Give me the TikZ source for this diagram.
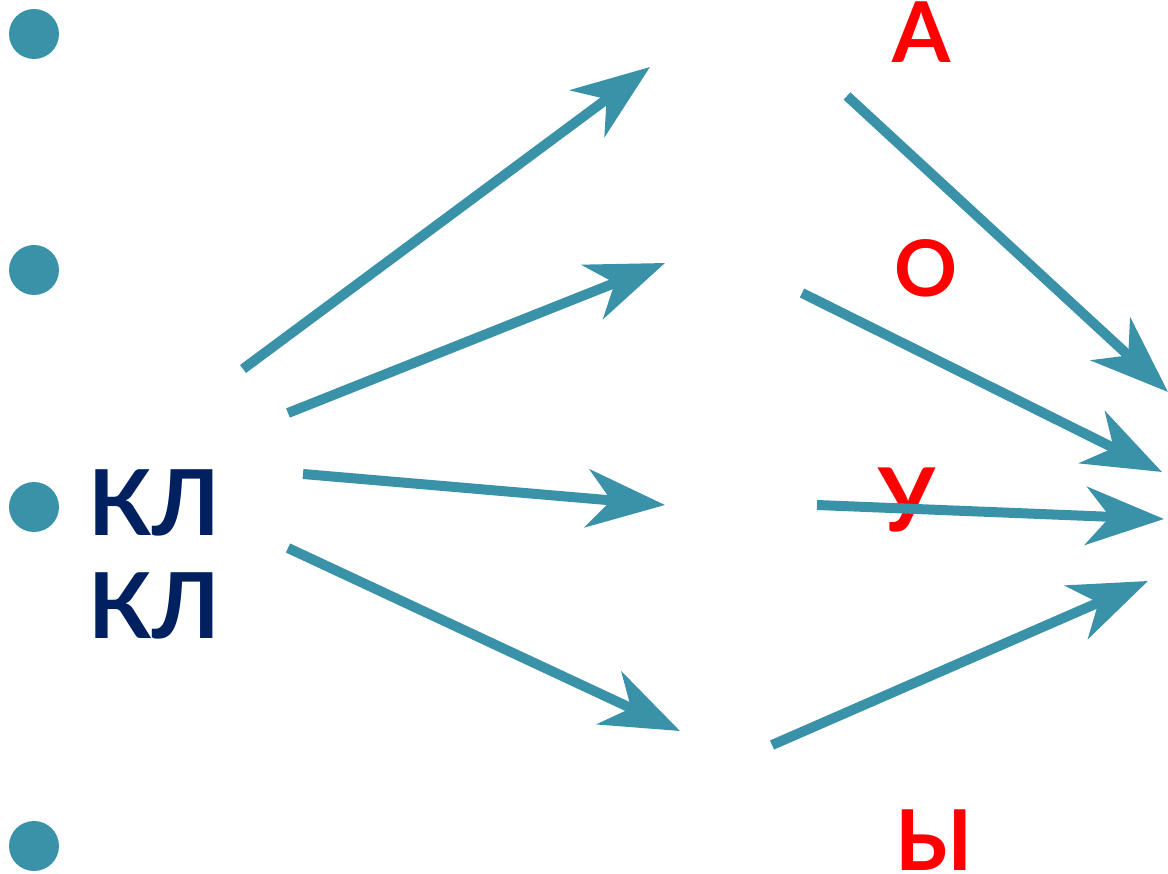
\documentclass[tikz,border=0pt]{standalone}
\usepackage{fontspec}
\setmainfont{Lato}
\usetikzlibrary{arrows.meta}
\definecolor{teal1}{RGB}{58,146,168}
\definecolor{navy1}{RGB}{0,32,96}
\definecolor{red1}{RGB}{255,0,0}
\begin{document}
\begin{tikzpicture}[x=1pt,y=-1pt,
  bulletdot/.style={circle,fill=teal1,inner sep=0pt,minimum size=50pt},
  arr/.style={draw=teal1,line width=10pt,-{Stealth[length=78pt,width=58pt,inset=24pt]}},
  leftlbl/.style={anchor=base west,inner sep=0pt,text=navy1,font=\fontsize{91}{91}\selectfont\bfseries},
  vowel/.style={anchor=base west,inner sep=0pt,text height=60pt,text depth=0pt,text=red1,font=\fontsize{84}{84}\selectfont\bfseries}]
\useasboundingbox (0,0) rectangle (1168,874);
% bullets
\node[bulletdot] (b1) at (34,34) {};
\node[bulletdot] (b2) at (34,270) {};
\node[bulletdot] (b3) at (34,507) {};
\node[bulletdot] (b4) at (34,846) {};
% labels
\node[leftlbl] (kl1) at (88,535) {КЛ};
\node[leftlbl] (kl2) at (88,638) {КЛ};
\node[vowel] (va) at (892,63) {А};
\node[vowel,font=\fontsize{78}{78}\selectfont\bfseries] (vo) at (894,297) {О};
\node[vowel,font=\fontsize{88}{88}\selectfont\bfseries] (vu) at (878,532) {У};
\node[vowel] (vy) at (895,870) {Ы};
% arrow endpoints
\coordinate (s1) at (243,369); \coordinate (t1) at (650,67);
\coordinate (s2) at (288,413); \coordinate (t2) at (665,263);
\coordinate (s3) at (303,474); \coordinate (t3) at (665,505);
\coordinate (s4) at (288,548); \coordinate (t4) at (680,731);
\coordinate (s5) at (847,96);  \coordinate (t5) at (1168,392);
\coordinate (s6) at (802,293); \coordinate (t6) at (1162,472);
\coordinate (s7) at (817,505); \coordinate (t7) at (1164,519);
\coordinate (s8) at (772,745); \coordinate (t8) at (1148,581);
\draw[arr] (s1) -- (t1);
\draw[arr] (s2) -- (t2);
\draw[arr] (s3) -- (t3);
\draw[arr] (s4) -- (t4);
\draw[arr] (s5) -- (t5);
\draw[arr] (s6) -- (t6);
\draw[arr] (s7) -- (t7);
\draw[arr] (s8) -- (t8);
\end{tikzpicture}
\end{document}
